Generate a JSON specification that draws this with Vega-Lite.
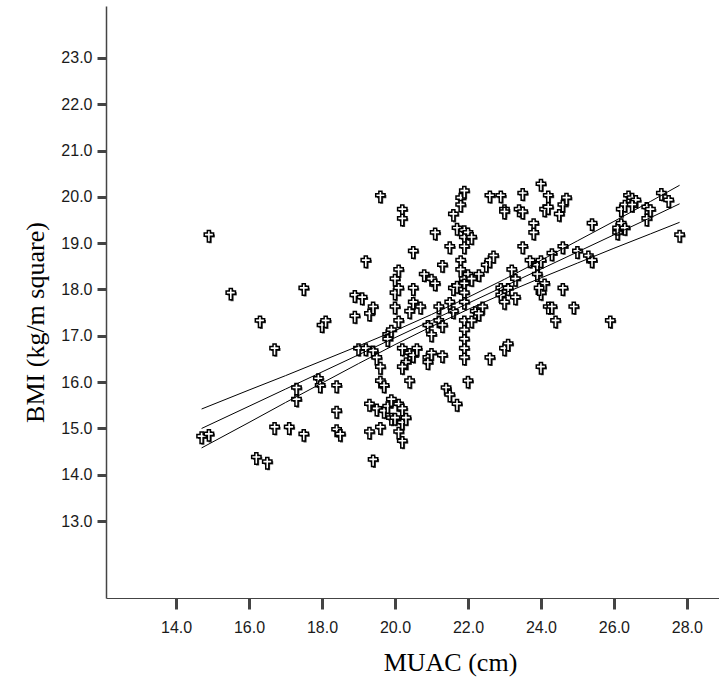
{
  "$schema": "https://vega.github.io/schema/vega-lite/v6.json",
  "autosize": "none",
  "width": 613,
  "height": 592,
  "padding": {"left": 106, "top": 6, "right": 0, "bottom": 94},
  "background": "white",
  "config": {
    "view": {"stroke": null},
    "axis": {
      "grid": false,
      "labelFont": "Liberation Sans",
      "labelFontSize": 16,
      "labelColor": "#1a1a1a",
      "tickColor": "#444444",
      "tickWidth": 3,
      "tickSize": 9,
      "domainColor": "#444444",
      "domainWidth": 1,
      "titleFont": "Liberation Serif",
      "titleFontSize": 26,
      "titleFontWeight": "normal",
      "titleColor": "#000000"
    }
  },
  "datasets": {
    "pts": [
      {"muac": 14.9, "bmi": 19.15}, {"muac": 15.5, "bmi": 17.9}, {"muac": 14.7, "bmi": 14.8}, {"muac": 14.9, "bmi": 14.85},
      {"muac": 16.3, "bmi": 17.3}, {"muac": 16.2, "bmi": 14.35}, {"muac": 16.5, "bmi": 14.25}, {"muac": 16.7, "bmi": 16.7},
      {"muac": 16.7, "bmi": 15.0}, {"muac": 17.1, "bmi": 15.0}, {"muac": 17.5, "bmi": 18.0}, {"muac": 17.3, "bmi": 15.85},
      {"muac": 17.3, "bmi": 15.6}, {"muac": 17.5, "bmi": 14.85}, {"muac": 18.0, "bmi": 17.2}, {"muac": 18.1, "bmi": 17.3},
      {"muac": 17.9, "bmi": 16.05}, {"muac": 17.95, "bmi": 15.9}, {"muac": 18.4, "bmi": 15.9}, {"muac": 18.4, "bmi": 15.35},
      {"muac": 18.4, "bmi": 14.95}, {"muac": 18.5, "bmi": 14.85}, {"muac": 18.9, "bmi": 17.85}, {"muac": 19.1, "bmi": 17.8},
      {"muac": 18.9, "bmi": 17.4}, {"muac": 19.2, "bmi": 18.6}, {"muac": 19.0, "bmi": 16.7}, {"muac": 19.2, "bmi": 16.7},
      {"muac": 19.3, "bmi": 17.45}, {"muac": 19.4, "bmi": 17.6}, {"muac": 19.4, "bmi": 16.65}, {"muac": 19.5, "bmi": 16.5},
      {"muac": 19.6, "bmi": 16.3}, {"muac": 19.3, "bmi": 15.5}, {"muac": 19.3, "bmi": 14.9}, {"muac": 19.4, "bmi": 14.3},
      {"muac": 19.6, "bmi": 15.0}, {"muac": 19.5, "bmi": 15.4}, {"muac": 19.7, "bmi": 15.35}, {"muac": 19.8, "bmi": 15.45},
      {"muac": 19.6, "bmi": 16.0}, {"muac": 19.7, "bmi": 15.9}, {"muac": 19.6, "bmi": 20.0}, {"muac": 19.8, "bmi": 17.0},
      {"muac": 19.9, "bmi": 17.1}, {"muac": 19.8, "bmi": 16.9}, {"muac": 19.9, "bmi": 15.2}, {"muac": 19.9, "bmi": 15.6},
      {"muac": 20.0, "bmi": 15.2}, {"muac": 20.1, "bmi": 15.5}, {"muac": 20.2, "bmi": 15.4}, {"muac": 20.2, "bmi": 15.1},
      {"muac": 20.3, "bmi": 15.2}, {"muac": 20.1, "bmi": 14.9}, {"muac": 20.2, "bmi": 14.7}, {"muac": 20.0, "bmi": 18.2},
      {"muac": 20.0, "bmi": 17.9}, {"muac": 20.1, "bmi": 18.0}, {"muac": 20.0, "bmi": 17.6}, {"muac": 20.1, "bmi": 17.3},
      {"muac": 20.2, "bmi": 19.7}, {"muac": 20.2, "bmi": 19.5}, {"muac": 20.1, "bmi": 18.4}, {"muac": 20.2, "bmi": 16.7},
      {"muac": 20.3, "bmi": 16.4}, {"muac": 20.4, "bmi": 16.6}, {"muac": 20.2, "bmi": 16.3}, {"muac": 20.4, "bmi": 16.0},
      {"muac": 20.5, "bmi": 18.8}, {"muac": 20.5, "bmi": 17.7}, {"muac": 20.4, "bmi": 17.5}, {"muac": 20.5, "bmi": 18.0},
      {"muac": 20.5, "bmi": 16.55}, {"muac": 20.6, "bmi": 16.7}, {"muac": 20.8, "bmi": 18.3}, {"muac": 20.7, "bmi": 17.6},
      {"muac": 20.9, "bmi": 16.5}, {"muac": 20.9, "bmi": 16.4}, {"muac": 21.0, "bmi": 16.6}, {"muac": 21.0, "bmi": 18.2},
      {"muac": 21.1, "bmi": 18.1}, {"muac": 20.9, "bmi": 17.2}, {"muac": 21.0, "bmi": 17.0}, {"muac": 21.1, "bmi": 19.2},
      {"muac": 21.2, "bmi": 17.6}, {"muac": 21.2, "bmi": 17.3}, {"muac": 21.3, "bmi": 17.2}, {"muac": 21.3, "bmi": 18.5},
      {"muac": 21.4, "bmi": 15.85}, {"muac": 21.5, "bmi": 15.7}, {"muac": 21.3, "bmi": 16.55}, {"muac": 21.5, "bmi": 18.9},
      {"muac": 21.6, "bmi": 19.6}, {"muac": 21.7, "bmi": 19.3}, {"muac": 21.5, "bmi": 17.7}, {"muac": 21.6, "bmi": 17.5},
      {"muac": 21.7, "bmi": 15.5}, {"muac": 21.6, "bmi": 18.0}, {"muac": 21.7, "bmi": 18.05}, {"muac": 21.8, "bmi": 19.95},
      {"muac": 21.9, "bmi": 20.1}, {"muac": 21.8, "bmi": 19.8}, {"muac": 21.8, "bmi": 18.6}, {"muac": 21.8, "bmi": 18.4},
      {"muac": 21.9, "bmi": 19.25}, {"muac": 21.9, "bmi": 19.1}, {"muac": 21.9, "bmi": 18.9}, {"muac": 21.9, "bmi": 18.2},
      {"muac": 21.9, "bmi": 18.1}, {"muac": 21.9, "bmi": 17.9}, {"muac": 21.9, "bmi": 17.7}, {"muac": 21.9, "bmi": 17.3},
      {"muac": 21.9, "bmi": 17.1}, {"muac": 21.9, "bmi": 16.9}, {"muac": 21.9, "bmi": 16.7}, {"muac": 21.9, "bmi": 16.5},
      {"muac": 22.0, "bmi": 19.2}, {"muac": 22.1, "bmi": 19.1}, {"muac": 22.0, "bmi": 18.3}, {"muac": 22.1, "bmi": 18.2},
      {"muac": 22.2, "bmi": 17.5}, {"muac": 22.1, "bmi": 17.3}, {"muac": 22.0, "bmi": 16.0}, {"muac": 22.3, "bmi": 18.3},
      {"muac": 22.4, "bmi": 17.6}, {"muac": 22.3, "bmi": 17.45}, {"muac": 22.6, "bmi": 20.0}, {"muac": 22.5, "bmi": 18.5},
      {"muac": 22.6, "bmi": 18.6}, {"muac": 22.7, "bmi": 18.7}, {"muac": 22.6, "bmi": 16.5}, {"muac": 22.9, "bmi": 20.0},
      {"muac": 23.0, "bmi": 19.7}, {"muac": 23.0, "bmi": 19.65}, {"muac": 22.9, "bmi": 18.0}, {"muac": 22.9, "bmi": 17.85},
      {"muac": 23.0, "bmi": 17.7}, {"muac": 23.0, "bmi": 16.7}, {"muac": 23.1, "bmi": 16.8}, {"muac": 23.2, "bmi": 18.4},
      {"muac": 23.3, "bmi": 18.2}, {"muac": 23.1, "bmi": 18.0}, {"muac": 23.3, "bmi": 17.8}, {"muac": 23.5, "bmi": 20.05},
      {"muac": 23.5, "bmi": 18.9}, {"muac": 23.7, "bmi": 18.6}, {"muac": 23.4, "bmi": 19.7}, {"muac": 23.5, "bmi": 19.65},
      {"muac": 23.8, "bmi": 19.4}, {"muac": 23.8, "bmi": 19.2}, {"muac": 24.0, "bmi": 20.25}, {"muac": 24.2, "bmi": 20.0},
      {"muac": 24.1, "bmi": 19.7}, {"muac": 24.2, "bmi": 19.75}, {"muac": 23.9, "bmi": 18.5}, {"muac": 24.0, "bmi": 18.6},
      {"muac": 23.9, "bmi": 18.3}, {"muac": 24.1, "bmi": 18.1}, {"muac": 24.0, "bmi": 17.9}, {"muac": 23.95, "bmi": 18.0},
      {"muac": 24.3, "bmi": 18.75}, {"muac": 24.2, "bmi": 17.6}, {"muac": 24.3, "bmi": 17.6}, {"muac": 24.4, "bmi": 17.3},
      {"muac": 24.0, "bmi": 16.3}, {"muac": 24.5, "bmi": 19.6}, {"muac": 24.6, "bmi": 19.8}, {"muac": 24.7, "bmi": 19.95},
      {"muac": 24.6, "bmi": 18.9}, {"muac": 24.6, "bmi": 18.0}, {"muac": 24.9, "bmi": 17.6}, {"muac": 25.0, "bmi": 18.8},
      {"muac": 25.3, "bmi": 18.7}, {"muac": 25.4, "bmi": 19.4}, {"muac": 25.4, "bmi": 18.6}, {"muac": 25.9, "bmi": 17.3},
      {"muac": 26.1, "bmi": 19.2}, {"muac": 26.1, "bmi": 19.3}, {"muac": 26.2, "bmi": 19.4}, {"muac": 26.3, "bmi": 19.3},
      {"muac": 26.2, "bmi": 19.7}, {"muac": 26.3, "bmi": 19.8}, {"muac": 26.4, "bmi": 20.0}, {"muac": 26.5, "bmi": 19.95},
      {"muac": 26.6, "bmi": 19.9}, {"muac": 26.5, "bmi": 19.8}, {"muac": 26.9, "bmi": 19.75}, {"muac": 27.0, "bmi": 19.7},
      {"muac": 26.9, "bmi": 19.5}, {"muac": 27.3, "bmi": 20.05}, {"muac": 27.5, "bmi": 19.9}, {"muac": 27.8, "bmi": 19.15}
    ],
    "fit": [
      {"muac": 14.7, "bmi": 15.0, "s": "fit"}, {"muac": 16, "bmi": 15.48, "s": "fit"}, {"muac": 17, "bmi": 15.85, "s": "fit"},
      {"muac": 18, "bmi": 16.22, "s": "fit"}, {"muac": 19, "bmi": 16.59, "s": "fit"}, {"muac": 20, "bmi": 16.96, "s": "fit"},
      {"muac": 21, "bmi": 17.33, "s": "fit"}, {"muac": 22, "bmi": 17.7, "s": "fit"}, {"muac": 23, "bmi": 18.07, "s": "fit"},
      {"muac": 24, "bmi": 18.44, "s": "fit"}, {"muac": 25, "bmi": 18.81, "s": "fit"}, {"muac": 26, "bmi": 19.18, "s": "fit"},
      {"muac": 27, "bmi": 19.55, "s": "fit"}, {"muac": 27.8, "bmi": 19.85, "s": "fit"},
      {"muac": 14.7, "bmi": 15.42, "s": "hi"}, {"muac": 16, "bmi": 15.83, "s": "hi"}, {"muac": 17, "bmi": 16.14, "s": "hi"},
      {"muac": 18, "bmi": 16.46, "s": "hi"}, {"muac": 19, "bmi": 16.78, "s": "hi"}, {"muac": 20, "bmi": 17.11, "s": "hi"},
      {"muac": 21, "bmi": 17.46, "s": "hi"}, {"muac": 22, "bmi": 17.83, "s": "hi"}, {"muac": 23, "bmi": 18.22, "s": "hi"},
      {"muac": 24, "bmi": 18.63, "s": "hi"}, {"muac": 25, "bmi": 19.05, "s": "hi"}, {"muac": 26, "bmi": 19.47, "s": "hi"},
      {"muac": 27, "bmi": 19.9, "s": "hi"}, {"muac": 27.8, "bmi": 20.25, "s": "hi"},
      {"muac": 14.7, "bmi": 14.58, "s": "lo"}, {"muac": 16, "bmi": 15.13, "s": "lo"}, {"muac": 17, "bmi": 15.56, "s": "lo"},
      {"muac": 18, "bmi": 15.98, "s": "lo"}, {"muac": 19, "bmi": 16.4, "s": "lo"}, {"muac": 20, "bmi": 16.81, "s": "lo"},
      {"muac": 21, "bmi": 17.2, "s": "lo"}, {"muac": 22, "bmi": 17.57, "s": "lo"}, {"muac": 23, "bmi": 17.92, "s": "lo"},
      {"muac": 24, "bmi": 18.25, "s": "lo"}, {"muac": 25, "bmi": 18.57, "s": "lo"}, {"muac": 26, "bmi": 18.89, "s": "lo"},
      {"muac": 27, "bmi": 19.2, "s": "lo"}, {"muac": 27.8, "bmi": 19.45, "s": "lo"}
    ]
  },
  "encoding": {
    "x": {
      "field": "muac", "type": "quantitative",
      "scale": {"domain": [12.08, 28.88], "nice": false, "zero": false},
      "axis": {"values": [14, 16, 18, 20, 22, 24, 26, 28], "format": ".1f", "title": "MUAC (cm)", "labelPadding": 10, "titlePadding": 14, "tickSize": 11, "titleX": 344}
    },
    "y": {
      "field": "bmi", "type": "quantitative",
      "scale": {"domain": [11.34, 24.12], "nice": false, "zero": false},
      "axis": {"values": [13, 14, 15, 16, 17, 18, 19, 20, 21, 22, 23], "format": ".1f", "title": "BMI (kg/m square)", "labelPadding": 5, "titlePadding": 12, "domainWidth": 1.5, "titleY": 316}
    }
  },
  "layer": [
    {
      "mark": {"type": "rule", "color": "#a0a0a0", "strokeWidth": 2},
      "encoding": {"y": {"datum": 24.12}, "x": null}
    },
    {
      "data": {"name": "pts"},
      "mark": {"type": "point", "shape": "M-0.27,-1L0.27,-1L0.27,-0.55L0.82,-0.55L0.82,0L0.27,0L0.27,1L-0.27,1L-0.27,0L-0.82,0L-0.82,-0.55L-0.27,-0.55Z", "filled": true, "fill": "#444444", "strokeWidth": 0, "opacity": 1, "size": 130, "xOffset": 1.3, "yOffset": 1.3}
    },
    {
      "data": {"name": "pts"},
      "mark": {"type": "point", "shape": "M-0.27,-1L0.27,-1L0.27,-0.55L0.82,-0.55L0.82,0L0.27,0L0.27,1L-0.27,1L-0.27,0L-0.82,0L-0.82,-0.55L-0.27,-0.55Z", "filled": true, "fill": "white", "stroke": "black", "strokeWidth": 1.5, "opacity": 1, "size": 130}
    },
    {
      "data": {"name": "fit"},
      "mark": {"type": "line", "color": "black", "strokeWidth": 1},
      "encoding": {"detail": {"field": "s", "type": "nominal"}}
    }
  ]
}
